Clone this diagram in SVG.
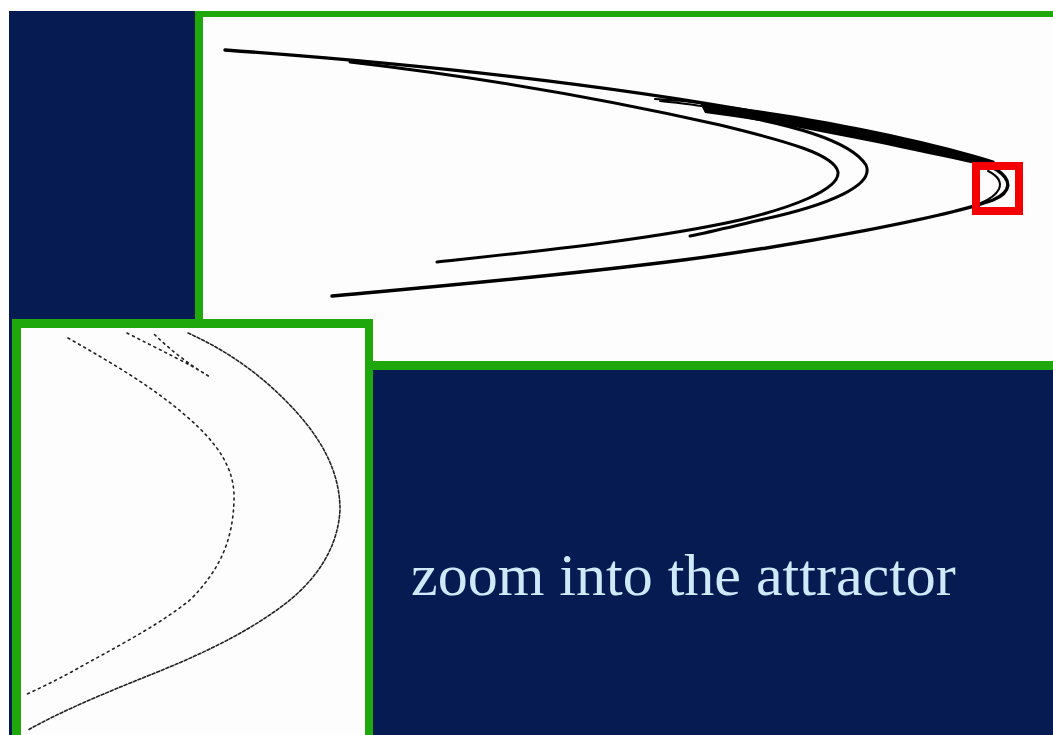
<svg xmlns="http://www.w3.org/2000/svg" width="1053" height="735" viewBox="0 0 1053 735">
<style>
.frame{fill:#1fa80b}
.paper{fill:#fcfdfc}
.curve{fill:none;stroke:#000;stroke-linecap:round;stroke-linejoin:round}
.dots{fill:none;stroke:#222;stroke-linecap:round;stroke-width:1.6}
.label{font-family:"Liberation Serif","Times New Roman",serif;font-size:60px;fill:#cfe9f9}
</style>
<rect x="0" y="0" width="1053" height="735" fill="#ffffff"/>
<rect x="9" y="11" width="1044" height="724" fill="#061b52"/>
<g id="top-panel">
<rect class="frame" x="195" y="11" width="870" height="359"/>
<rect class="paper" x="203" y="17" width="862" height="344"/>
<path class="curve" stroke-width="3.4" d="M225,50 C420,64 640,88 820,124 C920,144 980,158 997,170 C1012,180 1012,192 993,200 C950,216 800,245 683,260 C550,277 420,288 332,296"/>
<path d="M700,103 C800,113 930,140 995,161 L990,167 C920,152 800,125 705,113 Z" fill="#000"/>
<path class="curve" stroke-width="3" d="M350,62 C470,76 600,98 720,125 C790,142 835,155 838,172 C840,190 790,208 740,220 C650,240 530,252 437,262"/>
<path class="curve" stroke-width="3" d="M715,111 C790,124 850,140 866,165 C875,185 830,205 760,220 C730,227 710,232 690,236"/>
<path class="curve" stroke-width="2" d="M655,99 C675,100 695,102 712,105 M660,101 C680,103 698,105 712,108"/>
<path class="curve" stroke-width="2" d="M988,171 C998,176 1002,182 999,189 C996,195 988,200 981,203"/>
<rect x="976" y="166" width="43" height="45" fill="none" stroke="#f40000" stroke-width="8"/>
</g>
<g id="zoom-panel">
<rect class="frame" x="12" y="319" width="361" height="420"/>
<rect class="paper" x="21" y="328" width="344" height="410"/>
<path class="dots" stroke-dasharray="3 2" stroke-width="2" d="M188,333 C230,352 260,375 285,400 C320,435 340,470 340,510 C338,545 320,575 290,600 C250,632 200,655 150,675 C100,695 60,712 28,730"/>
<path class="dots" stroke-dasharray="2 4" d="M68,338 C110,362 150,385 185,415 C220,445 235,470 234,500 C233,540 220,570 190,600 C155,628 110,650 75,670 C55,681 38,689 25,695"/>
<path class="dots" stroke-dasharray="2 4" stroke-width="1.4" d="M127,333 C160,350 190,364 210,377 C190,365 170,350 153,333"/>
</g>
<g id="caption">
<text class="label" x="411" y="595">zoom into the attractor</text>
</g>
</svg>
